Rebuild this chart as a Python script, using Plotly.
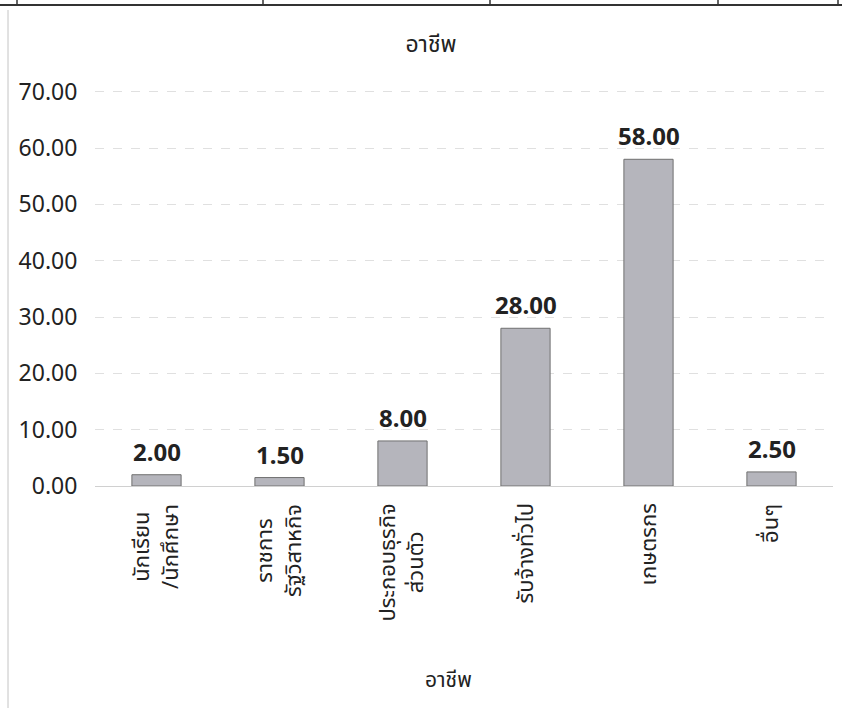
import plotly.graph_objects as go

categories = ["นักเรียน<br>/นักศึกษา", "ราชการ<br>รัฐวิสาหกิจ", "ประกอบธุรกิจ<br>ส่วนตัว",
              "รับจ้างทั่วไป", "เกษตรกร", "อื่นๆ"]
values = [2.00, 1.50, 8.00, 28.00, 58.00, 2.50]
y_ticks = [0, 10, 20, 30, 40, 50, 60, 70]
title_text = "อาชีพ"
x_title = "อาชีพ"

W, H = 842, 708
L, R, T, B = 95, 9, 90, 222

def px(x):
    return (x - L) / (W - L - R)

def py(y):
    return (H - B - y) / (H - T - B)

thai_font = "Noto Sans Thai, Noto Sans, DejaVu Sans, sans-serif"
num_font = "Noto Sans, Open Sans, sans-serif"
ink = "#222222"

fig = go.Figure(go.Bar(
    x=categories, y=values, width=0.4,
    marker=dict(color="#b5b5bc", line=dict(color="#707070", width=1)),
    hoverinfo="x+y",
))

annotations = []
# data labels
for c, v in zip(categories, values):
    annotations.append(dict(x=c, y=v, xref="x", yref="y", text=f"<b>{v:.2f}</b>",
                            showarrow=False, xanchor="center", yanchor="bottom", yshift=5,
                            font=dict(family=num_font, size=24, color=ink)))
# category labels (rotated, lines centred)
for c in categories:
    annotations.append(dict(x=c, y=0, xref="x", yref="y", text=c, textangle=-90,
                            showarrow=False, xanchor="center", yanchor="top", yshift=-16,
                            align="center",
                            font=dict(family=thai_font, size=22, color=ink)))
# axis title
annotations.append(dict(x=px(448), y=py(680), xref="paper", yref="paper", text=x_title,
                        showarrow=False, xanchor="center", yanchor="middle",
                        font=dict(family=thai_font, size=21, color=ink)))

shapes = [
    dict(type="line", xref="paper", yref="paper", x0=px(0), x1=px(842), y0=py(5), y1=py(5),
         line=dict(color="#333333", width=2)),
    dict(type="line", xref="paper", yref="paper", x0=px(8), x1=px(8), y0=py(10), y1=py(708),
         line=dict(color="#c4c4c4", width=1)),
]
for xv in [17, 263, 490, 718, 838]:
    shapes.append(dict(type="line", xref="paper", yref="paper", x0=px(xv), x1=px(xv),
                       y0=py(0), y1=py(5), line=dict(color="#333333", width=1.5)))

fig.update_layout(
    width=W, height=H,
    margin=dict(l=L, r=R, t=T, b=B, autoexpand=False),
    paper_bgcolor="white", plot_bgcolor="white",
    showlegend=False,
    shapes=shapes,
    annotations=annotations,
    title=dict(text=title_text, x=px(431), xref="paper", xanchor="center",
               y=1 - 44 / H, yanchor="middle",
               font=dict(family=thai_font, size=23, color=ink)),
    font=dict(family=thai_font, color=ink),
)
fig.update_xaxes(
    showticklabels=False,
    showline=True, linecolor="#d0d0d0", linewidth=1, ticks="",
)
fig.update_yaxes(
    range=[0, 70.3], tickvals=y_ticks, ticktext=[f"{v:.2f}" for v in y_ticks],
    tickfont=dict(family=num_font, size=23, color=ink),
    showgrid=True, gridcolor="#e0e0e0", gridwidth=1, griddash="dash",
    zeroline=False, ticks="outside", ticklen=12, tickcolor="rgba(0,0,0,0)",
)

fig.write_html("out.html", config={"displayModeBar": False},
               post_script="document.body.style.margin='0px';")
